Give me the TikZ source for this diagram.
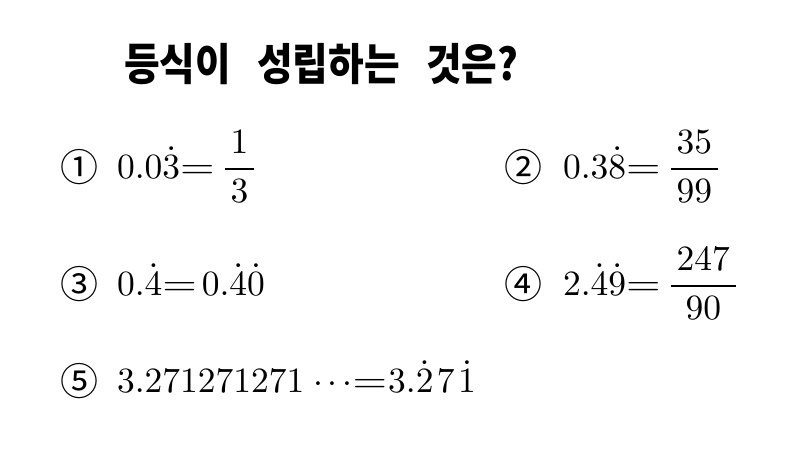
\documentclass[tikz,border=0pt]{standalone}
\usepackage{amsmath}
\usepackage{fontspec}
\newfontfamily\krfont{Noto Sans CJK KR}
\newcommand{\bigmathx}[1]{\scalebox{3.55}{$#1$}}
\newcommand{\eqw}{\mathord{\scalebox{1.25}[1]{$=$}}}
\newcommand{\padfrac}[2]{\dfrac{\mkern3mu#1\mkern3mu}{\mkern3mu#2\mkern3mu}}
\newcommand{\tightdots}{\mathinner{\cdotp\mkern-0.5mu\cdotp\mkern-0.5mu\cdotp}}
\begin{document}
\begin{tikzpicture}[x=1pt,y=-1pt,
  every node/.style={inner sep=0pt, outer sep=0pt},
  mathtxt/.style={anchor=base west},
  circnum/.style={anchor=base, font=\krfont\fontsize{38}{42}\selectfont},
  titletxt/.style={anchor=base west, font=\krfont\bfseries\fontsize{44}{50}\selectfont}]
\useasboundingbox[fill=white] (0,0) rectangle (810,456);
\node[titletxt] (title) at (124,80) {\scalebox{0.88}[1]{등식이\hspace{30pt}성립하는\hspace{30pt}것은?}};
% circled numbers
\node[circnum] (c1) at (79,181) {①};
\node[circnum] (c2) at (523,181) {②};
\node[circnum] (c3) at (79,298) {③};
\node[circnum] (c4) at (523,298) {④};
\node[circnum] (c5) at (79,395) {⑤};
% expressions
\node[mathtxt] (m1) at (117,178) {\bigmathx{0.0\dot{3}\eqw\mkern3mu\padfrac{1}{3}}};
\node[mathtxt] (m2) at (563,178) {\bigmathx{0.3\dot{8}\eqw\mkern3mu\padfrac{35}{99}}};
\node[mathtxt] (m3) at (117,295) {\bigmathx{0.\dot{4}\eqw\mkern2.5mu0.\dot{4}\dot{0}}};
\node[mathtxt] (m4) at (563,295) {\bigmathx{2.\dot{4}\dot{9}\eqw\mkern3mu\padfrac{247}{90}}};
\node[mathtxt] (m5) at (117,392) {\bigmathx{3.271271271\mkern1.5mu\tightdots\mkern-3mu\eqw\mkern0.5mu3.\dot{2}\mkern1.75mu7\mkern1.75mu\dot{1}}};
\end{tikzpicture}
\end{document}
